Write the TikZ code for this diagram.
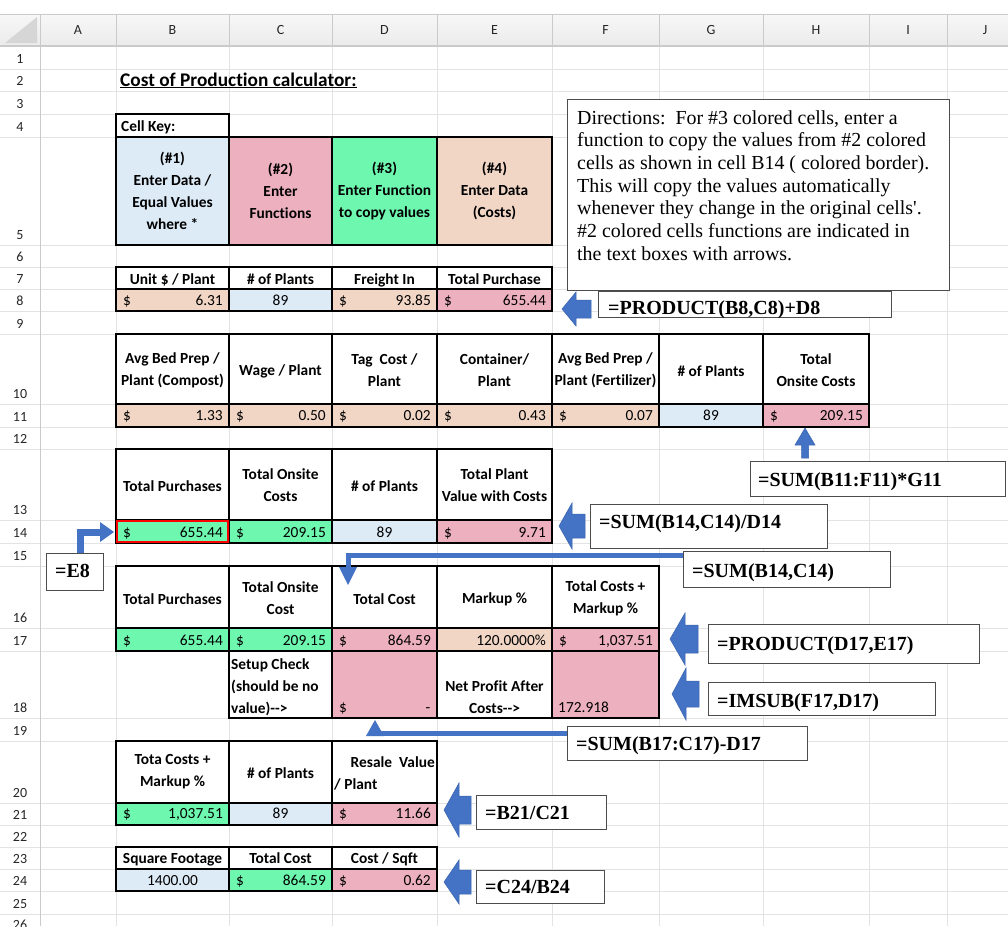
\documentclass[tikz,border=0pt]{standalone}
\usepackage{fontspec}
\setmainfont{Carlito}[Ligatures=CommonOff]
\newfontfamily\tnr{Liberation Serif}
\usetikzlibrary{calc}
\definecolor{gridc}{HTML}{E3E3E3}
\definecolor{hdrtop}{HTML}{F7F7F7}
\definecolor{hdrbot}{HTML}{EBEBEB}
\definecolor{hdrl}{HTML}{CACACA}
\definecolor{cornerc}{HTML}{D6D6D6}
\definecolor{cblue}{HTML}{DDEBF7}
\definecolor{cpink}{HTML}{EDB0BE}
\definecolor{cgreen}{HTML}{6EF7AE}
\definecolor{cpeach}{HTML}{F1D6C6}
\definecolor{abl}{HTML}{4472C4}
\definecolor{abd}{HTML}{3A64AE}
\tikzset{
  gridl/.style={draw=gridc, line width=0.8pt},
  cellb/.style={draw=black, line width=1.3pt},
  hd/.style={font=\fontsize{15.4}{22}\selectfont\bfseries, align=center, inner sep=0pt},
  val/.style={font=\fontsize{15.4}{22}\selectfont, inner sep=0pt},
  lab/.style={font=\fontsize{14}{14}\selectfont, text=black!85, inner sep=0pt},
  fbox/.style={draw=black!70, fill=white, line width=0.9pt, inner sep=0pt, anchor=north west},
  ftext/.style={font=\tnr\bfseries\fontsize{20}{20}\selectfont, inner sep=0pt, anchor=base west},
  blockarrow/.style={fill=abl, draw=abd, line width=0.5pt},
  conn/.style={draw=abl, line join=miter},
}
\newcommand{\cel}[5]{\draw[cellb,fill=#5] (#1,#2) rectangle (#3,#4);}
\newcommand{\dv}[5]{\node[val,anchor=base west] (#1s) at (#2+7,#4) {\$};\node[val,anchor=base east] (#1v) at (#3-6,#4) {#5};}
\newcommand{\larr}[7]{\coordinate (#1) at (#2,#3);
\path[blockarrow] (#1) -- ++(#5,-#6) -- ++(0,#6-#7) -- ++(#4-#5,0) -- ++(0,2*#7) -- ++(#5-#4,0) -- ++(0,#6-#7) -- cycle;}
\begin{document}
\begin{tikzpicture}[x=1pt,y=-1pt]
\useasboundingbox (0,0) rectangle (1008,926);
\clip (0,0) rectangle (1008,926);
\fill[white] (0,0) rectangle (1008,926);
% gridlines
\foreach \x in {116,229,332,437,552,659,763,869,947}{\draw[gridl] (\x,46) -- (\x,926);}
\foreach \y in {69,91,114,137,245,267,289,311,334,404,427,449,520,543,566,628,651,718,741,803,825,847,869,891,914}{\draw[gridl] (0,\y) -- (1008,\y);}
% header band
\shade[top color=hdrtop,bottom color=hdrbot] (0,14) rectangle (1008,46);
\foreach \x in {40,116,229,332,437,552,659,763,869,947}{\draw[draw=hdrl,line width=0.8pt] (\x,14) -- (\x,46);}
\draw[draw=hdrl,line width=0.8pt] (0,14) -- (1008,14);
\draw[draw=hdrl,line width=1.2pt] (0,46) -- (1008,46);
\draw[draw=hdrl,line width=1pt] (40,46) -- (40,926);
\fill[cornerc] (5,43) -- (37,43) -- (37,17) -- cycle;
\foreach \l/\x in {A/78,B/172.5,C/280.5,D/384.5,E/494.5,F/605.5,G/711,H/816,I/908,J/985}{\node[lab] (col\l) at (\x,30) {\l};}
\foreach \n/\b in {1/69,2/91,3/114,4/137,5/245,6/267,7/289,8/311,9/334,10/404,11/427,12/449,13/520,14/543,15/566,16/628,17/651,18/718,19/741,20/803,21/825,22/847,23/869,24/891,25/914,26/935}{\node[lab,anchor=base] (row\n) at (20,\b-6) {\n};}
% title
\node[anchor=base west, font=\fontsize{19.3}{19}\selectfont\bfseries, inner sep=0pt] (title) at (120,86) {\underline{Cost of Production calculator:}};
% cell key
\cel{116}{114}{229}{137}{white}
\node[hd,anchor=base west] (ck) at (121,131) {Cell Key:};
\cel{116}{137}{229}{245}{cblue}
\cel{229}{137}{332}{245}{cpink}
\cel{332}{137}{437}{245}{cgreen}
\cel{437}{137}{552}{245}{cpeach}
\node[hd] (k1) at (172.5,191) {(\#1)\\Enter Data /\\Equal Values\\where *};
\node[hd] (k2) at (280.5,191) {(\#2)\\Enter\\Functions};
\node[hd] (k3) at (384.5,191) {(\#3)\\Enter Function\\to copy values};
\node[hd] (k4) at (494.5,191) {(\#4)\\Enter Data\\(Costs)};
% rows 7-8
\cel{116}{267}{229}{289}{white}\cel{229}{267}{332}{289}{white}\cel{332}{267}{437}{289}{white}\cel{437}{267}{552}{289}{white}
\node[hd,anchor=base] (h7b) at (172.5,284) {Unit \$ / Plant};
\node[hd,anchor=base] (h7c) at (280.5,284) {\# of Plants};
\node[hd,anchor=base] (h7d) at (384.5,284) {Freight In};
\node[hd,anchor=base] (h7e) at (494.5,284) {Total Purchase};
\cel{116}{289}{229}{311}{cpeach}\cel{229}{289}{332}{311}{cblue}\cel{332}{289}{437}{311}{cpeach}\cel{437}{289}{552}{311}{cpink}
\dv{b8}{116}{229}{305}{6.31}
\node[val,anchor=base] (c8) at (280.5,305) {89};
\dv{d8}{332}{437}{305}{93.85}
\dv{e8}{437}{552}{305}{655.44}
% rows 10-11
\cel{116}{334}{229}{404}{white}\cel{229}{334}{332}{404}{white}\cel{332}{334}{437}{404}{white}\cel{437}{334}{552}{404}{white}\cel{552}{334}{659}{404}{white}\cel{659}{334}{763}{404}{white}\cel{763}{334}{869}{404}{white}
\node[hd] (h10b) at (172.5,370) {Avg Bed Prep /\\Plant (Compost)};
\node[hd] (h10c) at (280.5,371) {Wage / Plant};
\node[hd] (h10d) at (384.5,370) {Tag\ \ Cost /\\Plant};
\node[hd] (h10e) at (494.5,370) {Container/\\Plant};
\node[hd] (h10f) at (605.5,370) {Avg Bed Prep /\\Plant (Fertilizer)};
\node[hd] (h10g) at (711,371) {\# of Plants};
\node[hd] (h10h) at (816,370) {Total\\Onsite Costs};
\cel{116}{404}{229}{427}{cpeach}\cel{229}{404}{332}{427}{cpeach}\cel{332}{404}{437}{427}{cpeach}\cel{437}{404}{552}{427}{cpeach}\cel{552}{404}{659}{427}{cpeach}\cel{659}{404}{763}{427}{cblue}\cel{763}{404}{869}{427}{cpink}
\dv{b11}{116}{229}{420}{1.33}
\dv{c11}{229}{332}{420}{0.50}
\dv{d11}{332}{437}{420}{0.02}
\dv{e11}{437}{552}{420}{0.43}
\dv{f11}{552}{659}{420}{0.07}
\node[val,anchor=base] (g11) at (711,420) {89};
\dv{h11}{763}{869}{420}{209.15}
% rows 13-14
\cel{116}{449}{229}{520}{white}\cel{229}{449}{332}{520}{white}\cel{332}{449}{437}{520}{white}\cel{437}{449}{552}{520}{white}
\node[hd] (h13b) at (172.5,486) {Total Purchases};
\node[hd] (h13c) at (280.5,485) {Total Onsite\\Costs};
\node[hd] (h13d) at (384.5,486) {\# of Plants};
\node[hd] (h13e) at (494.5,485) {Total Plant\\Value with Costs};
\cel{116}{520}{229}{543}{cgreen}\cel{229}{520}{332}{543}{cgreen}\cel{332}{520}{437}{543}{cblue}\cel{437}{520}{552}{543}{cpink}
\draw[red, line width=2.2pt] (117,521) rectangle (228,542);
\dv{b14}{116}{229}{537}{655.44}
\dv{c14}{229}{332}{537}{209.15}
\node[val,anchor=base] (d14) at (384.5,537) {89};
\dv{e14}{437}{552}{537}{9.71}
% rows 16-18
\cel{116}{566}{229}{628}{white}\cel{229}{566}{332}{628}{white}\cel{332}{566}{437}{628}{white}\cel{437}{566}{552}{628}{white}\cel{552}{566}{659}{628}{white}
\node[hd] (h16b) at (172.5,599) {Total Purchases};
\node[hd] (h16c) at (280.5,598) {Total Onsite\\Cost};
\node[hd] (h16d) at (384.5,599) {Total Cost};
\node[hd] (h16e) at (494.5,599) {Markup \%};
\node[hd] (h16f) at (605.5,598) {Total Costs +\\Markup \%};
\cel{116}{628}{229}{651}{cgreen}\cel{229}{628}{332}{651}{cgreen}\cel{332}{628}{437}{651}{cpink}\cel{437}{628}{552}{651}{cpeach}\cel{552}{628}{659}{651}{cpink}
\dv{b17}{116}{229}{645}{655.44}
\dv{c17}{229}{332}{645}{209.15}
\dv{d17}{332}{437}{645}{864.59}
\node[val,anchor=base east] (e17) at (546,645) {120.0000\%};
\dv{f17}{552}{659}{645}{1,037.51}
\cel{229}{651}{332}{718}{white}\cel{332}{651}{437}{718}{cpink}\cel{437}{651}{552}{718}{white}\cel{552}{651}{659}{718}{cpink}
\node[hd,align=left,anchor=west] (c18) at (231,687) {Setup Check\\(should be no\\value)-{}->};
\node[val,anchor=base west] (d18s) at (339,712) {\$};
\node[val,anchor=base] (d18v) at (428,712) {-};
\node[hd] (e18) at (494.5,697) {Net Profit After\\Costs-{}->};
\node[val,anchor=base west] (f18) at (558,712) {172.918};
% rows 20-21
\cel{116}{741}{229}{803}{white}\cel{229}{741}{332}{803}{white}\cel{332}{741}{437}{803}{white}
\node[hd] (h20b) at (172.5,772) {Tota Costs +\\Markup \%};
\node[hd] (h20c) at (280.5,773) {\# of Plants};
\node[hd,anchor=base east] (h20d1) at (435,767) {Resale\ \ Value};
\node[hd,anchor=base west] (h20d2) at (334,789) {/ Plant};
\cel{116}{803}{229}{825}{cgreen}\cel{229}{803}{332}{825}{cblue}\cel{332}{803}{437}{825}{cpink}
\dv{b21}{116}{229}{818}{1,037.51}
\node[val,anchor=base] (c21) at (280.5,818) {89};
\dv{d21}{332}{437}{818}{11.66}
% rows 23-24
\cel{116}{847}{229}{869}{white}\cel{229}{847}{332}{869}{white}\cel{332}{847}{437}{869}{white}
\node[hd,anchor=base] (h23b) at (172.5,863) {Square Footage};
\node[hd,anchor=base] (h23c) at (280.5,863) {Total Cost};
\node[hd,anchor=base] (h23d) at (384.5,863) {Cost / Sqft};
\cel{116}{869}{229}{891}{cblue}\cel{229}{869}{332}{891}{cgreen}\cel{332}{869}{437}{891}{cpink}
\node[val,anchor=base] (b24) at (172.5,885) {1400.00};
\dv{c24}{229}{332}{885}{864.59}
\dv{d24}{332}{437}{885}{0.62}
% directions box
\node[fbox, minimum width=382pt, minimum height=191pt] (dirbox) at (567,99) {};
\node[anchor=north west, inner sep=0pt, align=left, font=\tnr\fontsize{19.9}{22.7}\selectfont] (dirtext) at (577,110) {Directions:\ \ For \#3 colored cells, enter a\\function to copy the values from \#2 colored\\cells as shown in cell B14 ( colored border).\\This will copy the values automatically\\whenever they change in the original cells'.\\\#2 colored cells functions are indicated in\\the text boxes with arrows.};
% formula boxes
\node[fbox, minimum width=293pt, minimum height=26pt] (fA) at (598,291) {};
\node[ftext] (fAt) at (608,314.5) {=PRODUCT(B8,C8)+D8};
\node[fbox, minimum width=255pt, minimum height=35pt] (fB) at (750,461) {};
\node[ftext] (fBt) at (758,486) {=SUM(B11:F11)*G11};
\node[fbox, minimum width=237pt, minimum height=44pt] (fC) at (590,504) {};
\node[ftext] (fCt) at (599,528) {=SUM(B14,C14)/D14};
\node[fbox, minimum width=207pt, minimum height=36pt] (fD) at (683,551) {};
\node[ftext] (fDt) at (692,577) {=SUM(B14,C14)};
\node[fbox, minimum width=57pt, minimum height=37pt] (fE) at (46,553) {};
\node[ftext] (fEt) at (55,577) {=E8};
\node[fbox, minimum width=271pt, minimum height=39pt] (fF) at (708,624) {};
\node[ftext] (fFt) at (717,650) {=PRODUCT(D17,E17)};
\node[fbox, minimum width=227pt, minimum height=33pt] (fG) at (708,682) {};
\node[ftext] (fGt) at (717,707) {=IMSUB(F17,D17)};
\node[fbox, minimum width=240pt, minimum height=34pt] (fH) at (567,726) {};
\node[ftext] (fHt) at (576,750) {=SUM(B17:C17)-D17};
\node[fbox, minimum width=130pt, minimum height=34pt] (fI) at (476,795) {};
\node[ftext] (fIt) at (485,819) {=B21/C21};
\node[fbox, minimum width=128pt, minimum height=33pt] (fJ) at (476,870) {};
\node[ftext] (fJt) at (485,893) {=C24/B24};
% block arrows
\larr{aE8}{562}{309}{29}{14}{17}{9}
\larr{aE14}{559}{526}{26}{13}{23}{12}
\larr{aF17}{670}{639}{28}{15}{26}{14}
\larr{aF18}{672}{694}{27}{14}{26}{13}
\larr{aD21}{444}{810}{27}{15}{27}{14}
\larr{aD24}{444}{882}{27}{15}{22}{12}
\path[blockarrow] (805,428) -- (815,445) -- (808.5,445) -- (808.5,458) -- (801.5,458) -- (801.5,445) -- (795,445) -- cycle;
% connectors
\coordinate (eStart) at ($(fE.north)+(5.5,0)$);
\coordinate (eHead) at (101,532);
\coordinate (eTip) at (114,532);
\draw[conn, line width=7pt] (eStart) |- (eHead);
\fill[abl] (100,522) -- (eTip) -- (100,542) -- cycle;
\coordinate (dStart) at ($(fD.north west)+(0,4.5)$);
\coordinate (dHead) at (348,568);
\coordinate (dTip) at (348,585);
\draw[conn, line width=5pt] (dStart) -| (dHead);
\fill[abl] (339,567) -- (357,567) -- (dTip) -- cycle;
\coordinate (hStart) at ($(fH.north west)+(0,7)$);
\coordinate (hEnd) at (372,733);
\coordinate (hTip) at (375,720);
\draw[conn, line width=5pt] (hStart) -- (hEnd);
\fill[abl] (366,736) -- (384,736) -- (hTip) -- cycle;
\end{tikzpicture}
\end{document}
